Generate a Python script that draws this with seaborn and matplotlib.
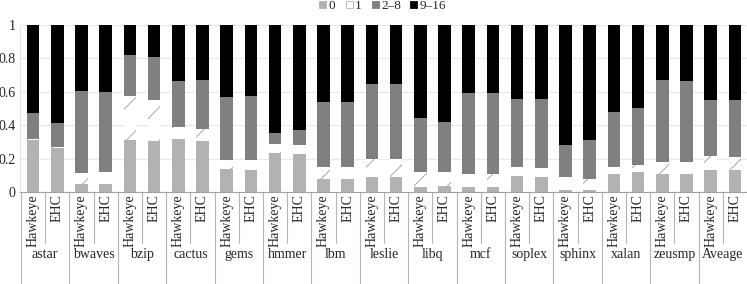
import numpy as np
import pandas as pd
import seaborn as sns
import matplotlib.pyplot as plt
from matplotlib.patches import Patch
from matplotlib.transforms import blended_transform_factory

benchmarks = ['astar', 'bwaves', 'bzip', 'cactus', 'gems', 'hmmer', 'lbm', 'leslie',
              'libq', 'mcf', 'soplex', 'sphinx', 'xalan', 'zeusmp', 'Aveage']
policies = ['Hawkeye', 'EHC']
segments = ['0', '1', '2–8', '9–16']

# fraction per segment, Hawkeye / EHC
seg0_hawkeye = [.310, .050, .312, .318, .136, .234, .080, .090, .030, .028, .096, .012, .108, .106, .134]
seg0_ehc = [.266, .048, .306, .308, .132, .230, .080, .090, .034, .030, .090, .012, .120, .106, .132]
seg1_hawkeye = [.008, .066, .260, .074, .056, .052, .070, .110, .092, .078, .052, .078, .040, .076, .080]
seg1_ehc = [.006, .074, .246, .072, .060, .050, .070, .106, .084, .076, .054, .068, .044, .072, .080]
seg28_hawkeye = [.154, .490, .248, .272, .378, .070, .388, .448, .324, .484, .408, .194, .334, .486, .338]
seg28_ehc = [.144, .478, .256, .292, .384, .090, .388, .448, .304, .484, .412, .234, .338, .484, .336]
seg916_hawkeye = [.528, .394, .180, .336, .430, .644, .462, .352, .554, .410, .444, .716, .518, .332, .448]
seg916_ehc = [.584, .400, .192, .328, .424, .630, .462, .356, .578, .410, .444, .686, .498, .338, .452]

colors = ['#b2b2b2', '#ffffff', '#808080', '#000000']

rows = []
for i, b in enumerate(benchmarks):
    for j, (p, s0, s1, s2, s3) in enumerate([
            ('Hawkeye', seg0_hawkeye[i], seg1_hawkeye[i], seg28_hawkeye[i], seg916_hawkeye[i]),
            ('EHC', seg0_ehc[i], seg1_ehc[i], seg28_ehc[i], seg916_ehc[i])]):
        rows.append({'pos': i * 2 + j, 'bench': b, 'policy': p,
                     '0': s0, '1': s1, '2–8': s2, '9–16': s3})
df = pd.DataFrame(rows)
# cumulative tops, drawn tallest first so shorter layers sit on top
df['c0'] = df['0']
df['c1'] = df['c0'] + df['1']
df['c2'] = df['c1'] + df['2–8']
df['c3'] = df['c2'] + df['9–16']

sns.set_style('white')
plt.rcParams['font.family'] = ['Liberation Serif', 'DejaVu Serif']
plt.rcParams['hatch.linewidth'] = 0.6
fs = 10

fig = plt.figure(figsize=(7.47, 2.84), dpi=100)
ax = fig.add_axes([20 / 747, (284 - 192) / 284, 727 / 747, 167 / 284])

order = list(range(len(df)))
for col, c in zip(['c3', 'c2', 'c1', 'c0'], colors[::-1]):
    sns.barplot(data=df, x='pos', y=col, order=order, color=c, saturation=1,
                width=0.52, linewidth=0, ax=ax)
# hatch the "1" layer
n = len(df)
for patch in ax.patches[2 * n:3 * n]:
    patch.set_hatch('/')
    patch.set_edgecolor('#9a9a9a')
    patch.set_linewidth(0)

ax.set_ylim(0, 1)
ax.set_xlim(-0.54, 2 * len(benchmarks) - 0.5)
ax.set_yticks([0, 0.2, 0.4, 0.6, 0.8, 1.0])
ax.set_yticklabels(['0', '0.2', '0.4', '0.6', '0.8', '1'], fontsize=fs)
ax.tick_params(axis='y', length=0, pad=3)
ax.set_xticks([])
ax.set_xlabel('')
ax.set_ylabel('')
ax.yaxis.grid(True, color='#e8e8e8', linewidth=0.8)
ax.set_axisbelow(True)
for s in ['top', 'right']:
    ax.spines[s].set_visible(False)
ax.spines['left'].set_color('#e4e4e4')
ax.spines['left'].set_linewidth(0.8)
ax.spines['bottom'].set_color('#a0a0a0')
ax.spines['bottom'].set_linewidth(0.8)

trans = blended_transform_factory(ax.transData, ax.transAxes)
for i, b in enumerate(benchmarks):
    x0 = 2 * i - 0.5
    ax.plot([x0, x0], [0, -0.7], transform=trans, color='#b4b4b4', lw=0.8, clip_on=False)
    ax.plot([x0 + 1, x0 + 1], [0, -0.305], transform=trans, color='#b4b4b4', lw=0.8, clip_on=False)
    for j, p in enumerate(policies):
        ax.text(2 * i + j, -0.012, p, transform=trans, rotation=90, ha='center', va='top',
                fontsize=fs)
    ax.text(2 * i + 0.5, -0.375, b, transform=trans, ha='center', va='center', fontsize=fs)

# legend entries placed one by one, like the reference's spacing
legend_x = [319, 346, 372, 410]
for c, lab, lx in zip(colors, segments, legend_x):
    h = Patch(facecolor=c, edgecolor='#b0b0b0' if c == '#ffffff' else c, linewidth=0.6)
    fig.legend([h], [lab], loc='center left', bbox_to_anchor=(lx / 747, 1 - 6 / 284),
               frameon=False, fontsize=9.5, handlelength=0.5, handleheight=0.5,
               handletextpad=0.2, borderpad=0, borderaxespad=0)

fig.savefig('out.png', dpi=100)
